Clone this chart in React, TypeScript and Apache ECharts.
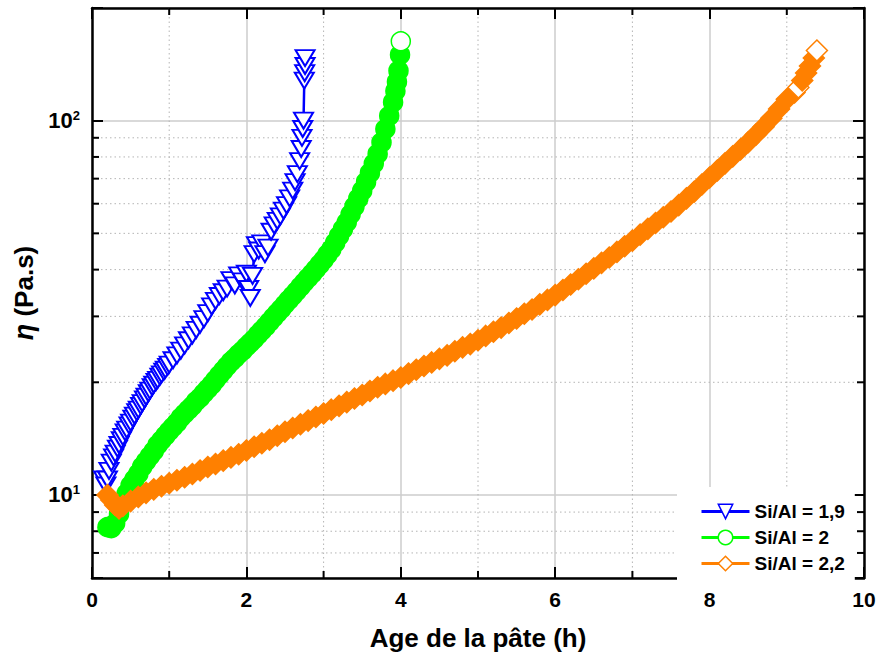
import React, { useEffect, useRef } from 'react';
import * as echarts from 'echarts';

const FONT = '"Liberation Sans", Arial, Helvetica, sans-serif';

const seriesNames = ['Si/Al = 1,9', 'Si/Al = 2', 'Si/Al = 2,2'];
const seriesColors = ['#0000ff', '#00ff00', '#ff8000'];

const xTicks = [0, 2, 4, 6, 8, 10];
const xMinor = [1, 3, 5, 7, 9];
const yMinor = [7, 8, 9, 20, 30, 40, 50, 60, 70, 80, 90];

// Si/Al = 1,9 : [age (h), viscosity (Pa.s)]
const blue: [number, number][] = [
  [0.15, 11.0], [0.18, 10.6], [0.2, 11.0], [0.22, 11.6], [0.25, 12.2], [0.28, 12.6], [0.3, 12.9],
  [0.33, 13.3], [0.35, 13.6], [0.38, 14.0], [0.4, 14.3], [0.43, 14.7], [0.45, 14.95], [0.48, 15.35],
  [0.5, 15.6], [0.53, 16.0], [0.55, 16.3], [0.58, 16.65], [0.6, 16.9], [0.63, 17.3], [0.65, 17.6],
  [0.68, 18.0], [0.7, 18.3], [0.73, 18.7], [0.75, 19.0], [0.78, 19.4], [0.8, 19.7], [0.83, 20.05],
  [0.85, 20.3], [0.88, 20.7], [0.9, 21.0], [0.93, 21.35], [0.95, 21.6], [0.98, 22.0], [1.0, 22.3],
  [1.05, 22.9], [1.1, 23.6], [1.15, 24.3], [1.2, 25.1], [1.25, 25.9], [1.3, 26.7], [1.35, 27.6],
  [1.4, 28.5], [1.45, 29.5], [1.5, 30.6], [1.55, 31.9], [1.6, 33.0], [1.65, 34.0], [1.7, 34.8],
  [1.75, 35.6], [1.8, 37.5], [1.85, 36.3], [1.9, 38.6], [1.95, 37.2], [2.0, 39.0], [2.03, 35.5],
  [2.05, 33.6], [2.08, 38.5], [2.1, 44.0], [2.13, 46.5], [2.16, 45.0], [2.2, 47.0], [2.24, 44.0],
  [2.28, 45.8], [2.32, 50.5], [2.36, 52.5], [2.4, 54.0], [2.44, 55.5], [2.48, 57.5], [2.52, 59.5],
  [2.56, 62.0], [2.6, 65.0], [2.63, 68.5], [2.66, 72.0], [2.69, 78.0], [2.71, 84.0], [2.72, 90.0],
  [2.73, 95.0], [2.74, 100.0], [2.75, 128.0], [2.755, 134.0], [2.76, 140.0], [2.76, 147.0],
];

// Si/Al = 2
const green: [number, number][] = [
  [0.2, 8.2], [0.25, 8.15], [0.3, 8.4], [0.35, 8.9], [0.4, 9.5], [0.45, 10.1], [0.5, 10.6],
  [0.55, 11.0], [0.6, 11.4], [0.65, 11.9], [0.7, 12.3], [0.75, 12.7], [0.8, 13.1], [0.85, 13.6],
  [0.9, 14.0], [0.95, 14.4], [1.0, 14.8], [1.05, 15.2], [1.1, 15.6], [1.15, 16.1], [1.2, 16.5],
  [1.25, 16.9], [1.3, 17.3], [1.35, 17.8], [1.4, 18.2], [1.45, 18.7], [1.5, 19.2], [1.55, 19.7],
  [1.6, 20.3], [1.65, 20.9], [1.7, 21.5], [1.75, 22.1], [1.8, 22.7], [1.85, 23.2], [1.9, 23.8],
  [1.95, 24.3], [2.0, 24.9], [2.05, 25.5], [2.1, 26.1], [2.15, 26.8], [2.2, 27.5], [2.25, 28.2],
  [2.3, 29.0], [2.35, 29.8], [2.4, 30.6], [2.45, 31.4], [2.5, 32.3], [2.55, 33.2], [2.6, 34.1],
  [2.65, 35.0], [2.7, 36.0], [2.75, 37.0], [2.8, 38.0], [2.85, 39.0], [2.9, 40.1], [2.95, 41.3],
  [3.0, 42.5], [3.05, 43.9], [3.1, 45.3], [3.15, 47.2], [3.2, 49.2], [3.25, 51.3], [3.3, 53.5],
  [3.35, 56.2], [3.4, 59.0], [3.45, 62.0], [3.5, 65.0], [3.55, 68.6], [3.6, 72.5], [3.65, 76.8],
  [3.7, 81.5], [3.75, 87.5], [3.8, 95.0], [3.85, 103.0], [3.9, 112.0], [3.93, 120.0],
  [3.95, 127.0], [3.97, 136.0], [3.99, 150.0], [4.0, 163.0],
];

// Si/Al = 2,2
const orange: [number, number][] = [
  [0.2, 10.0], [0.25, 9.7], [0.3, 9.4], [0.35, 9.2], [0.4, 9.35], [0.5, 9.63], [0.6, 9.88],
  [0.7, 10.13], [0.8, 10.35], [0.9, 10.55], [1.0, 10.75], [1.1, 10.95], [1.2, 11.15], [1.3, 11.38],
  [1.4, 11.62], [1.5, 11.88], [1.6, 12.1], [1.7, 12.35], [1.8, 12.6], [1.9, 12.85], [2.0, 13.15],
  [2.1, 13.45], [2.2, 13.75], [2.3, 14.05], [2.4, 14.4], [2.5, 14.75], [2.6, 15.1], [2.7, 15.45],
  [2.8, 15.8], [2.9, 16.15], [3.0, 16.5], [3.1, 16.9], [3.2, 17.3], [3.3, 17.7], [3.4, 18.1],
  [3.5, 18.5], [3.6, 18.95], [3.7, 19.4], [3.8, 19.8], [3.9, 20.2], [4.0, 20.6], [4.1, 21.1],
  [4.2, 21.6], [4.3, 22.1], [4.4, 22.6], [4.5, 23.1], [4.6, 23.6], [4.7, 24.2], [4.8, 24.8],
  [4.9, 25.3], [5.0, 25.9], [5.1, 26.6], [5.2, 27.3], [5.3, 28.0], [5.4, 28.8], [5.5, 29.6],
  [5.6, 30.5], [5.7, 31.3], [5.8, 32.3], [5.9, 33.2], [6.0, 34.2], [6.1, 35.3], [6.2, 36.5],
  [6.3, 37.7], [6.4, 39.0], [6.5, 40.3], [6.6, 41.7], [6.7, 43.1], [6.8, 44.6], [6.9, 46.2],
  [7.0, 47.8], [7.1, 49.6], [7.2, 51.4], [7.3, 53.3], [7.4, 55.2], [7.5, 57.2], [7.6, 59.5],
  [7.7, 62.0], [7.8, 64.6], [7.9, 67.5], [8.0, 70.5], [8.1, 73.6], [8.2, 76.9], [8.3, 80.3],
  [8.4, 83.8], [8.5, 87.6], [8.6, 91.8], [8.7, 96.4], [8.8, 101.5], [8.9, 107.5], [9.0, 114.0],
  [9.1, 119.0], [9.15, 122.6], [9.2, 128.0], [9.25, 134.0], [9.3, 140.0], [9.35, 147.0],
  [9.39, 154.0],
];

// points whose hollow (white) interior stays visible in the picture
const greenHollowAt = [4.0];
const orangeHollowAt = [9.15, 9.39];

function buildData(pts: [number, number][], hollowAt: number[]) {
  return pts.map((p) =>
    hollowAt.indexOf(p[0]) >= 0 ? { value: p, itemStyle: { color: '#ffffff' } } : p
  );
}

const isPow10 = (v: number) => {
  const l = Math.log10(v);
  return Math.abs(l - Math.round(l)) < 1e-6;
};

export default function App() {
  const ref = useRef<HTMLDivElement>(null);

  useEffect(() => {
    if (!ref.current) return;
    const chart = echarts.init(ref.current, undefined, { renderer: 'svg' });

    const axisLine = { show: true, onZero: false, lineStyle: { color: '#000', width: 2.5 } };
    const majorTick = { show: true, inside: true, length: 11, lineStyle: { color: '#000', width: 2 } };
    const splitLine = { show: true, lineStyle: { color: '#cccccc', width: 1.5, type: 'solid' } };

    const gridData = [
      ...yMinor.map((v) => [1, v, 0]),
      ...xMinor.map((v) => [v, 10, 1]),
    ];

    const option: any = {
      animation: false,
      backgroundColor: '#ffffff',
      textStyle: { fontFamily: FONT },
      grid: { left: 92, right: 16, top: 8, bottom: 81, containLabel: false },
      xAxis: [
        {
          type: 'value',
          min: 0,
          max: 10,
          interval: 2,
          position: 'bottom',
          axisLine,
          axisTick: majorTick,
          splitLine,
          axisLabel: {
            color: '#000',
            fontSize: 21,
            fontWeight: 'bold',
            fontFamily: FONT,
            margin: 11,
            formatter: (v: number) => (xTicks.indexOf(v) >= 0 ? String(v) : ''),
          },
          name: 'Age de la pâte (h)',
          nameLocation: 'middle',
          nameGap: 47,
          nameTextStyle: { color: '#000', fontSize: 26, fontWeight: 'bold', fontFamily: FONT },
        },
        {
          type: 'value',
          min: 0,
          max: 10,
          interval: 2,
          position: 'top',
          axisLine,
          axisTick: majorTick,
          axisLabel: { show: false },
          splitLine: { show: false },
        },
      ],
      yAxis: [
        {
          type: 'log',
          logBase: 10,
          min: 6,
          max: 200,
          position: 'left',
          axisLine,
          axisTick: majorTick,
          splitLine,
          axisLabel: {
            color: '#000',
            margin: 12,
            formatter: (v: number) => {
              if (!isPow10(v)) return '';
              const e = Math.round(Math.log10(v));
              return '{b|10}{s|' + e + '}';
            },
            rich: {
              b: { fontSize: 22, fontWeight: 'bold', fontFamily: FONT, color: '#000', lineHeight: 24 },
              s: { fontSize: 13, fontWeight: 'bold', fontFamily: FONT, color: '#000', verticalAlign: 'top', lineHeight: 14 },
            },
          },
          name: '{i|η} (Pa.s)',
          nameLocation: 'middle',
          nameGap: 52,
          nameTextStyle: {
            color: '#000',
            fontSize: 26,
            fontWeight: 'bold',
            fontFamily: FONT,
            rich: {
              i: { fontSize: 27, fontWeight: 'bold', fontStyle: 'italic', fontFamily: FONT, color: '#000' },
            },
          },
        },
        {
          type: 'log',
          logBase: 10,
          min: 6,
          max: 200,
          position: 'right',
          axisLine,
          axisTick: majorTick,
          axisLabel: { show: false },
          splitLine: { show: false },
        },
      ],
      legend: {
        orient: 'vertical',
        left: 677,
        top: 487,
        padding: [15, 10, 8, 23],
        itemGap: 7,
        itemWidth: 48,
        itemHeight: 18,
        backgroundColor: '#ffffff',
        selectedMode: false,
        textStyle: { color: '#000', fontSize: 19, fontWeight: 'bold', fontFamily: FONT },
        data: seriesNames.map((n, i) => ({
          name: n,
          itemStyle: { color: '#ffffff', borderColor: seriesColors[i], borderWidth: 1.5 },
          lineStyle: { color: seriesColors[i], width: 3 },
        })),
      },
      series: [
        {
          type: 'custom',
          name: '_minor',
          z: 1,
          silent: true,
          clip: false,
          encode: { x: 0, y: 1 },
          data: gridData,
          renderItem: (params: any, api: any) => {
            const cs = params.coordSys;
            const kind = api.value(2);
            const dotted = { stroke: '#b4b4b4', lineWidth: 1, lineDash: [1.5, 3] };
            const tick = { stroke: '#000', lineWidth: 2 };
            if (kind === 0) {
              const y = api.coord([1, api.value(1)])[1];
              return {
                type: 'group',
                children: [
                  { type: 'line', shape: { x1: cs.x, y1: y, x2: cs.x + cs.width, y2: y }, style: dotted },
                  { type: 'line', shape: { x1: cs.x, y1: y, x2: cs.x + 7, y2: y }, style: tick },
                  { type: 'line', shape: { x1: cs.x + cs.width - 7, y1: y, x2: cs.x + cs.width, y2: y }, style: tick },
                ],
              };
            }
            const x = api.coord([api.value(0), 10])[0];
            return {
              type: 'group',
              children: [
                { type: 'line', shape: { x1: x, y1: cs.y, x2: x, y2: cs.y + cs.height }, style: dotted },
                { type: 'line', shape: { x1: x, y1: cs.y + cs.height - 7, x2: x, y2: cs.y + cs.height }, style: tick },
                { type: 'line', shape: { x1: x, y1: cs.y, x2: x, y2: cs.y + 7 }, style: tick },
              ],
            };
          },
        },
        {
          name: seriesNames[0],
          type: 'line',
          data: blue,
          symbol: 'triangle',
          symbolRotate: 180,
          symbolSize: [19, 16],
          showAllSymbol: true,
          z: 3,
          lineStyle: { color: seriesColors[0], width: 2.5 },
          itemStyle: { color: '#ffffff', borderColor: seriesColors[0], borderWidth: 2 },
          emphasis: { disabled: true },
        },
        {
          name: seriesNames[1],
          type: 'line',
          data: buildData(green, greenHollowAt),
          symbol: 'circle',
          symbolSize: 19,
          showAllSymbol: true,
          z: 3,
          lineStyle: { color: seriesColors[1], width: 2.5 },
          itemStyle: { color: seriesColors[1], borderColor: seriesColors[1], borderWidth: 1.5 },
          emphasis: { disabled: true },
        },
        {
          name: seriesNames[2],
          type: 'line',
          data: buildData(orange, orangeHollowAt),
          symbol: 'diamond',
          symbolSize: 21,
          showAllSymbol: true,
          z: 3,
          lineStyle: { color: seriesColors[2], width: 2.5 },
          itemStyle: { color: seriesColors[2], borderColor: seriesColors[2], borderWidth: 1.5 },
          emphasis: { disabled: true },
        },
      ],
    };

    chart.setOption(option);
    return () => chart.dispose();
  }, []);

  return (
    <div
      ref={ref}
      style={{ position: 'fixed', left: 0, top: 0, width: 880, height: 659, background: '#fff' }}
    />
  );
}
